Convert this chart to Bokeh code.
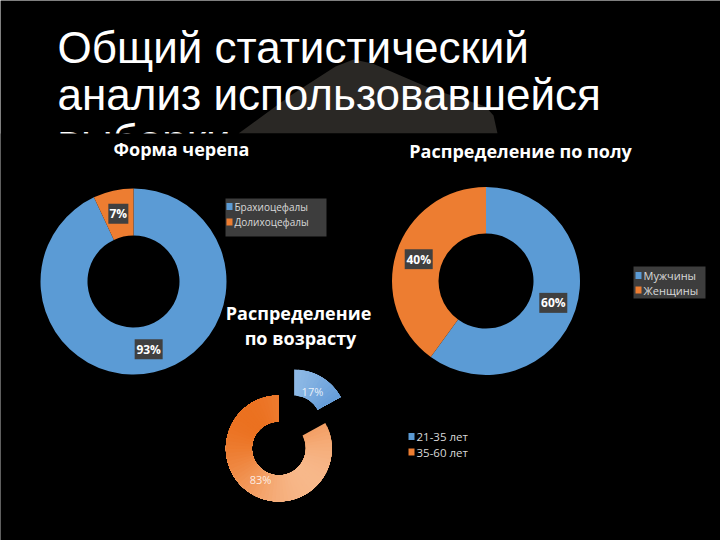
import math
from bokeh.plotting import figure
from bokeh.models import Range1d
from bokeh.core.properties import value
from bokeh.embed import file_html
from bokeh.resources import INLINE

# ---------------- data ----------------
title_lines = ["Общий статистический", "анализ использовавшейся", "выборки"]

skull_title = "Форма черепа"
skull_categories = ["Брахиоцефалы", "Долихоцефалы"]
skull_values = [93, 7]

sex_title = "Распределение по полу"
sex_categories = ["Мужчины", "Женщины"]
sex_values = [60, 40]

age_title = ["Распределение", "по возрасту"]
age_categories = ["21-35 лет", "35-60 лет"]
age_values = [17, 83]

# ---------------- style ----------------
BLUE = "#5b9bd5"
ORANGE = "#ed7d31"
W, H = 720, 540
BODY_FONT = value("Open Sans")


def Y(y):
    return H - y


p = figure(width=W, height=H, x_range=Range1d(0, W), y_range=Range1d(0, H),
           output_backend="svg", toolbar_location=None, min_border=0,
           x_axis_location=None, y_axis_location=None)
p.grid.visible = False
p.outline_line_color = None
p.background_fill_color = "black"
p.border_fill_color = "black"

# background decoration behind the title
p.patch(x=[238, 290, 335, 353, 372, 430, 485, 493, 497],
        y=[Y(133), Y(95), Y(66), Y(59), Y(63), Y(88), Y(106), Y(115), Y(133)],
        fill_color="#2a2825", line_color=None)

# slide title
for i, line in enumerate(title_lines):
    p.text(x=[57], y=[Y(47 + i * 46.5)], text=[line], text_font=value("Liberation Sans"),
           text_font_size="44px", text_color="white", text_baseline="alphabetic",
           text_align="left")

# pasted picture covers the lower part of the slide
p.quad(left=[0], right=[W], top=[Y(133)], bottom=[0], fill_color="black", line_color=None)


def angles(values):
    tot = float(sum(values))
    out = []
    c = 0.0
    for v in values:
        c0, c1 = c, c + v / tot
        out.append((c0, c1))
        c = c1
    return out


def donut(cx, cy, r_in, r_out, values, colors):
    segs = angles(values)
    starts = [math.pi / 2 - 2 * math.pi * c1 for c0, c1 in segs]
    ends = [math.pi / 2 - 2 * math.pi * c0 for c0, c1 in segs]
    p.annular_wedge(x=[cx] * len(values), y=[Y(cy)] * len(values),
                    inner_radius=r_in, outer_radius=r_out,
                    start_angle=starts, end_angle=ends,
                    fill_color=colors, line_color=None)
    rm = (r_in + r_out) / 2
    for (c0, c1), v in zip(segs, values):
        th = 2 * math.pi * (c0 + c1) / 2
        lx = cx + rm * math.sin(th)
        ly = Y(cy) + rm * math.cos(th)
        lab = f"{v}%"
        p.rect(x=[lx], y=[ly], width=8 * len(lab) + 4, height=20,
               width_units="screen", height_units="screen",
               fill_color="#404040", line_color=None)
        p.text(x=[lx], y=[ly], text=[lab], text_font=BODY_FONT, text_font_style="bold",
               text_font_size="12px", text_color="white",
               text_align="center", text_baseline="middle")


def legend(x0, y0, dy, cats, colors, size, box=None):
    if box is not None:
        l, t, r, b = box
        p.quad(left=[l], right=[r], top=[Y(t)], bottom=[Y(b)],
               fill_color="#3d3d3d", line_color=None)
    for i, (c, col) in enumerate(zip(cats, colors)):
        yy = Y(y0 + i * dy)
        p.rect(x=[x0], y=[yy], width=6, height=7, width_units="screen",
               height_units="screen", fill_color=col, line_color=None)
        p.text(x=[x0 + 5], y=[yy], text=[c], text_font=BODY_FONT,
               text_font_size=size, text_color="#d9d9d9",
               text_align="left", text_baseline="middle")


def title(x, y, txt, size="18px"):
    p.text(x=[x], y=[Y(y)], text=[txt], text_font=BODY_FONT, text_font_style="bold",
           text_font_size=size, text_color="white", text_align="center",
           text_baseline="middle")


# ---- chart 1: skull form ----
title(181, 148, skull_title)
donut(133, 281, 46, 93, skull_values, [BLUE, ORANGE])
legend(229, 206, 15.5, skull_categories, [BLUE, ORANGE], "10px", box=(225, 198, 326, 236))

# ---- chart 2: sex ----
title(520, 150, sex_title)
donut(485.5, 280.5, 47.5, 94, sex_values, [BLUE, ORANGE])
legend(638, 275, 14.5, sex_categories, [BLUE, ORANGE], "11px", box=(633, 266, 705, 298))

# ---- chart 3: age (exploded, gradient) ----
title(298, 312, age_title[0])
title(300, 337, age_title[1])


def lerp(c1, c2, t):
    t = max(0.0, min(1.0, t))
    a = [int(c1[i:i + 2], 16) for i in (1, 3, 5)]
    b = [int(c2[i:i + 2], 16) for i in (1, 3, 5)]
    return "#" + "".join(f"{int(round(a[k] + (b[k] - a[k]) * t)):02x}" for k in range(3))


age_cx, age_cy, age_d, age_rin, age_rout = 286, 435, 15, 27, 53
grads = [("#9cc3ea", "#4787cf"), ("#eb7120", "#f7b88a")]
segs = angles(age_values)
for (c0, c1), v, (g0, g1) in zip(segs, age_values, grads):
    mid = 2 * math.pi * (c0 + c1) / 2
    scx = age_cx + age_d * math.sin(mid)
    scy = Y(age_cy) + age_d * math.cos(mid)
    n = max(4, int(round((c1 - c0) * 80)))
    xs, ys, st, en, cols = [], [], [], [], []
    for k in range(n):
        a0 = c0 + (c1 - c0) * k / n
        a1 = c0 + (c1 - c0) * (k + 1) / n
        am = 2 * math.pi * (a0 + a1) / 2
        # projection on top-left -> bottom-right diagonal
        px = math.sin(am)
        py = -math.cos(am)
        t = ((px + py) / math.sqrt(2) + 1) / 2
        xs.append(scx)
        ys.append(scy)
        # each band runs to the end of the slice; later bands overlay earlier ones
        st.append(math.pi / 2 - 2 * math.pi * c1)
        en.append(math.pi / 2 - 2 * math.pi * a0)
        cols.append(lerp(g0, g1, t))
    p.annular_wedge(x=xs, y=ys, inner_radius=age_rin, outer_radius=age_rout,
                    start_angle=st, end_angle=en, fill_color=cols, line_color=None)
    rm = 36
    lx = scx + rm * math.sin(mid)
    ly = scy + rm * math.cos(mid)
    p.text(x=[lx], y=[ly], text=[f"{v}%"], text_font=BODY_FONT, text_font_size="11px",
           text_color="white", text_alpha=0.85, text_align="center", text_baseline="middle")

legend(411, 436, 15.5, age_categories, [BLUE, ORANGE], "11.5px")

open("out.html", "w").write(file_html(p, INLINE))
